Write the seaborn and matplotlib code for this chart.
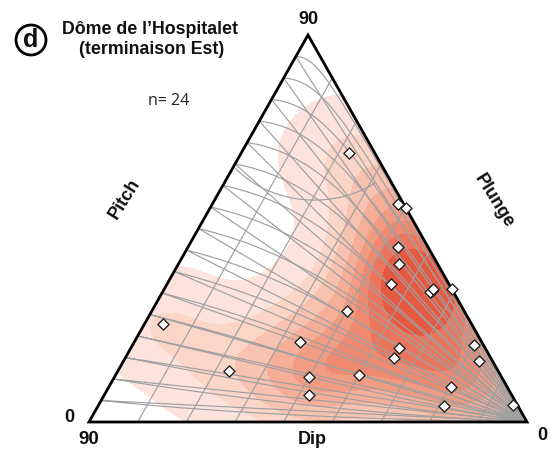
import numpy as np
import pandas as pd
import matplotlib
matplotlib.use("Agg")
import matplotlib.pyplot as plt
from matplotlib.patches import Polygon, Ellipse
from matplotlib.colors import LinearSegmentedColormap
import seaborn as sns

# ---- data: measurement positions in the triangle frame (u along Dip base, v height fraction)
pos_u = [0.594, 0.705, 0.724, 0.705, 0.708, 0.689, 0.783, 0.779, 0.785, 0.829,
         0.589, 0.482, 0.708, 0.696, 0.879, 0.890, 0.502, 0.616, 0.502, 0.826,
         0.811, 0.968, 0.169, 0.320]
pos_v = [0.695, 0.563, 0.553, 0.452, 0.408, 0.357, 0.339, 0.336, 0.344, 0.344,
         0.287, 0.207, 0.191, 0.165, 0.199, 0.158, 0.116, 0.121, 0.070, 0.090,
         0.041, 0.044, 0.253, 0.132]
dip_ticks = ["90", "0"]
apex_tick = "90"
side_ticks = ["0"]
title_lines = ["Dôme de l\u2019Hospitalet", "(terminaison Est)"]
n_label = "n= 24"
panel = "d"

df = pd.DataFrame({"u": pos_u, "v": pos_v})

sns.set_theme(style="white")
plt.rcParams["font.family"] = ["Liberation Sans", "DejaVu Sans"]

W, H = 553, 455
fig = plt.figure(figsize=(W / 100, H / 100), dpi=100)
ax = fig.add_axes([0, 0, 1, 1])
X0, XW, Y0, YH = 89, 438, 422, 387
ax.set_xlim(-X0 / XW, (W - X0) / XW)
ax.set_ylim((Y0 - H) / YH, Y0 / YH)
ax.axis("off")

def P(px, py):
    return (px - X0) / XW, (Y0 - py) / YH

L, R, T = (0.0, 0.0), (1.0, 0.0), (0.5, 1.0)

# ---- density
cmap = LinearSegmentedColormap.from_list(
    "r", ["#fdece6", "#fad3c5", "#f5b29c", "#f08e74", "#ea6a51", "#e2452f"])
sns.kdeplot(data=df, x="u", y="v", fill=True, levels=9, thresh=0.03,
            bw_adjust=0.9, cmap=cmap, ax=ax, zorder=1)
tri_clip = Polygon([L, R, T], closed=True, transform=ax.transData,
                   facecolor="none", edgecolor="none")
ax.add_patch(tri_clip)
for c in ax.collections:
    c.set_clip_path(tri_clip)
ax.set_xlabel("")
ax.set_ylabel("")
ax.axis("off")

# ---- grid (dip / pitch net)
def net_point(d, p):
    d = np.asarray(d, float)
    p = np.asarray(p, float)
    pl = np.degrees(np.arcsin(np.sin(np.radians(d)) * np.sin(np.radians(p))))
    k = 1.0 + 0.7 * (1 - d / 90.0)
    f = (pl / d) ** k
    bx, by = 1 - d / 90.0, 0.0
    rx, ry = 1 - 0.5 * d / 90.0, d / 90.0
    return bx + f * (rx - bx), by + f * (ry - by)

gcol = "#a0a0a0"
pp = np.linspace(0, 90, 200)
for d in range(10, 90, 10):
    x, y = net_point(np.full_like(pp, d), pp)
    ax.plot(x, y, color=gcol, lw=0.85, zorder=3)
dd = np.linspace(0.05, 90, 400)
for p in range(5, 90, 5):
    x, y = net_point(dd, np.full_like(dd, p))
    x = np.append(x, 1.0); y = np.append(y, 0.0)
    ax.plot(x, y, color=gcol, lw=0.85, zorder=3)

# arc (short way through the middle point)
a1, a2, a3 = np.array(P(235, 168)), np.array(P(310, 200)), np.array(P(375, 183))
A = np.array([2 * (a2 - a1), 2 * (a3 - a1)])
b = np.array([a2 @ a2 - a1 @ a1, a3 @ a3 - a1 @ a1])
cen = np.linalg.solve(A, b)
rad = np.linalg.norm(a1 - cen)
ang = lambda q: np.arctan2(q[1] - cen[1], q[0] - cen[0])
t1, t2, t3 = ang(a1), ang(a2), ang(a3)
d2 = (t2 - t1) % (2 * np.pi)
d3 = (t3 - t1) % (2 * np.pi)
tt = np.linspace(t1, t1 + d3, 100) if d2 < d3 else np.linspace(t1, t1 - (2 * np.pi - d3), 100)
ax.plot(cen[0] + rad * np.cos(tt), cen[1] + rad * np.sin(tt), color=gcol, lw=0.85, zorder=3)

# triangle outline
ax.add_patch(Polygon([L, R, T], closed=True, facecolor="none", edgecolor="black",
                     lw=2.0, zorder=4, joinstyle="miter"))

# points
sns.scatterplot(data=df, x="u", y="v", marker="D", s=32, color="white",
                edgecolor="#222222", linewidth=1.0, ax=ax, zorder=6, legend=False)
ax.axis("off")

# ---- text
bold = dict(fontweight="bold", color="#111111")
ax.text(*P(150, 30), title_lines[0], ha="center", va="center", fontsize=12.8, **bold)
ax.text(*P(152, 49), title_lines[1], ha="center", va="center", fontsize=12.8, **bold)
ax.text(*P(169, 101), n_label, ha="center", va="center", fontsize=11.5,
        family="Open Sans", color="#222222")
cx, cy = P(31, 40)
ax.add_patch(Ellipse((cx, cy), 2 * 15 / XW, 2 * 15 / YH, facecolor="none",
                     edgecolor="black", lw=2.0))
ax.text(cx, cy, panel, ha="center", va="center", fontsize=18, **bold)
ax.text(*P(308, 20), apex_tick, ha="center", va="center", fontsize=13, **bold)
ax.text(*P(69, 418), side_ticks[0], ha="center", va="center", fontsize=13, **bold)
ax.text(*P(89, 440), dip_ticks[0], ha="center", va="center", fontsize=13.5, **bold)
ax.text(*P(542, 435), dip_ticks[1], ha="center", va="center", fontsize=13, **bold)
ax.text(*P(312, 440), "Dip", ha="center", va="center", fontsize=13, **bold)
ax.text(*P(125, 199), "Pitch", ha="center", va="center", fontsize=13, rotation=58, **bold)
ax.text(*P(494, 201), "Plunge", ha="center", va="center", fontsize=13, rotation=-58, **bold)

fig.savefig("out.png", dpi=100, facecolor="white")
